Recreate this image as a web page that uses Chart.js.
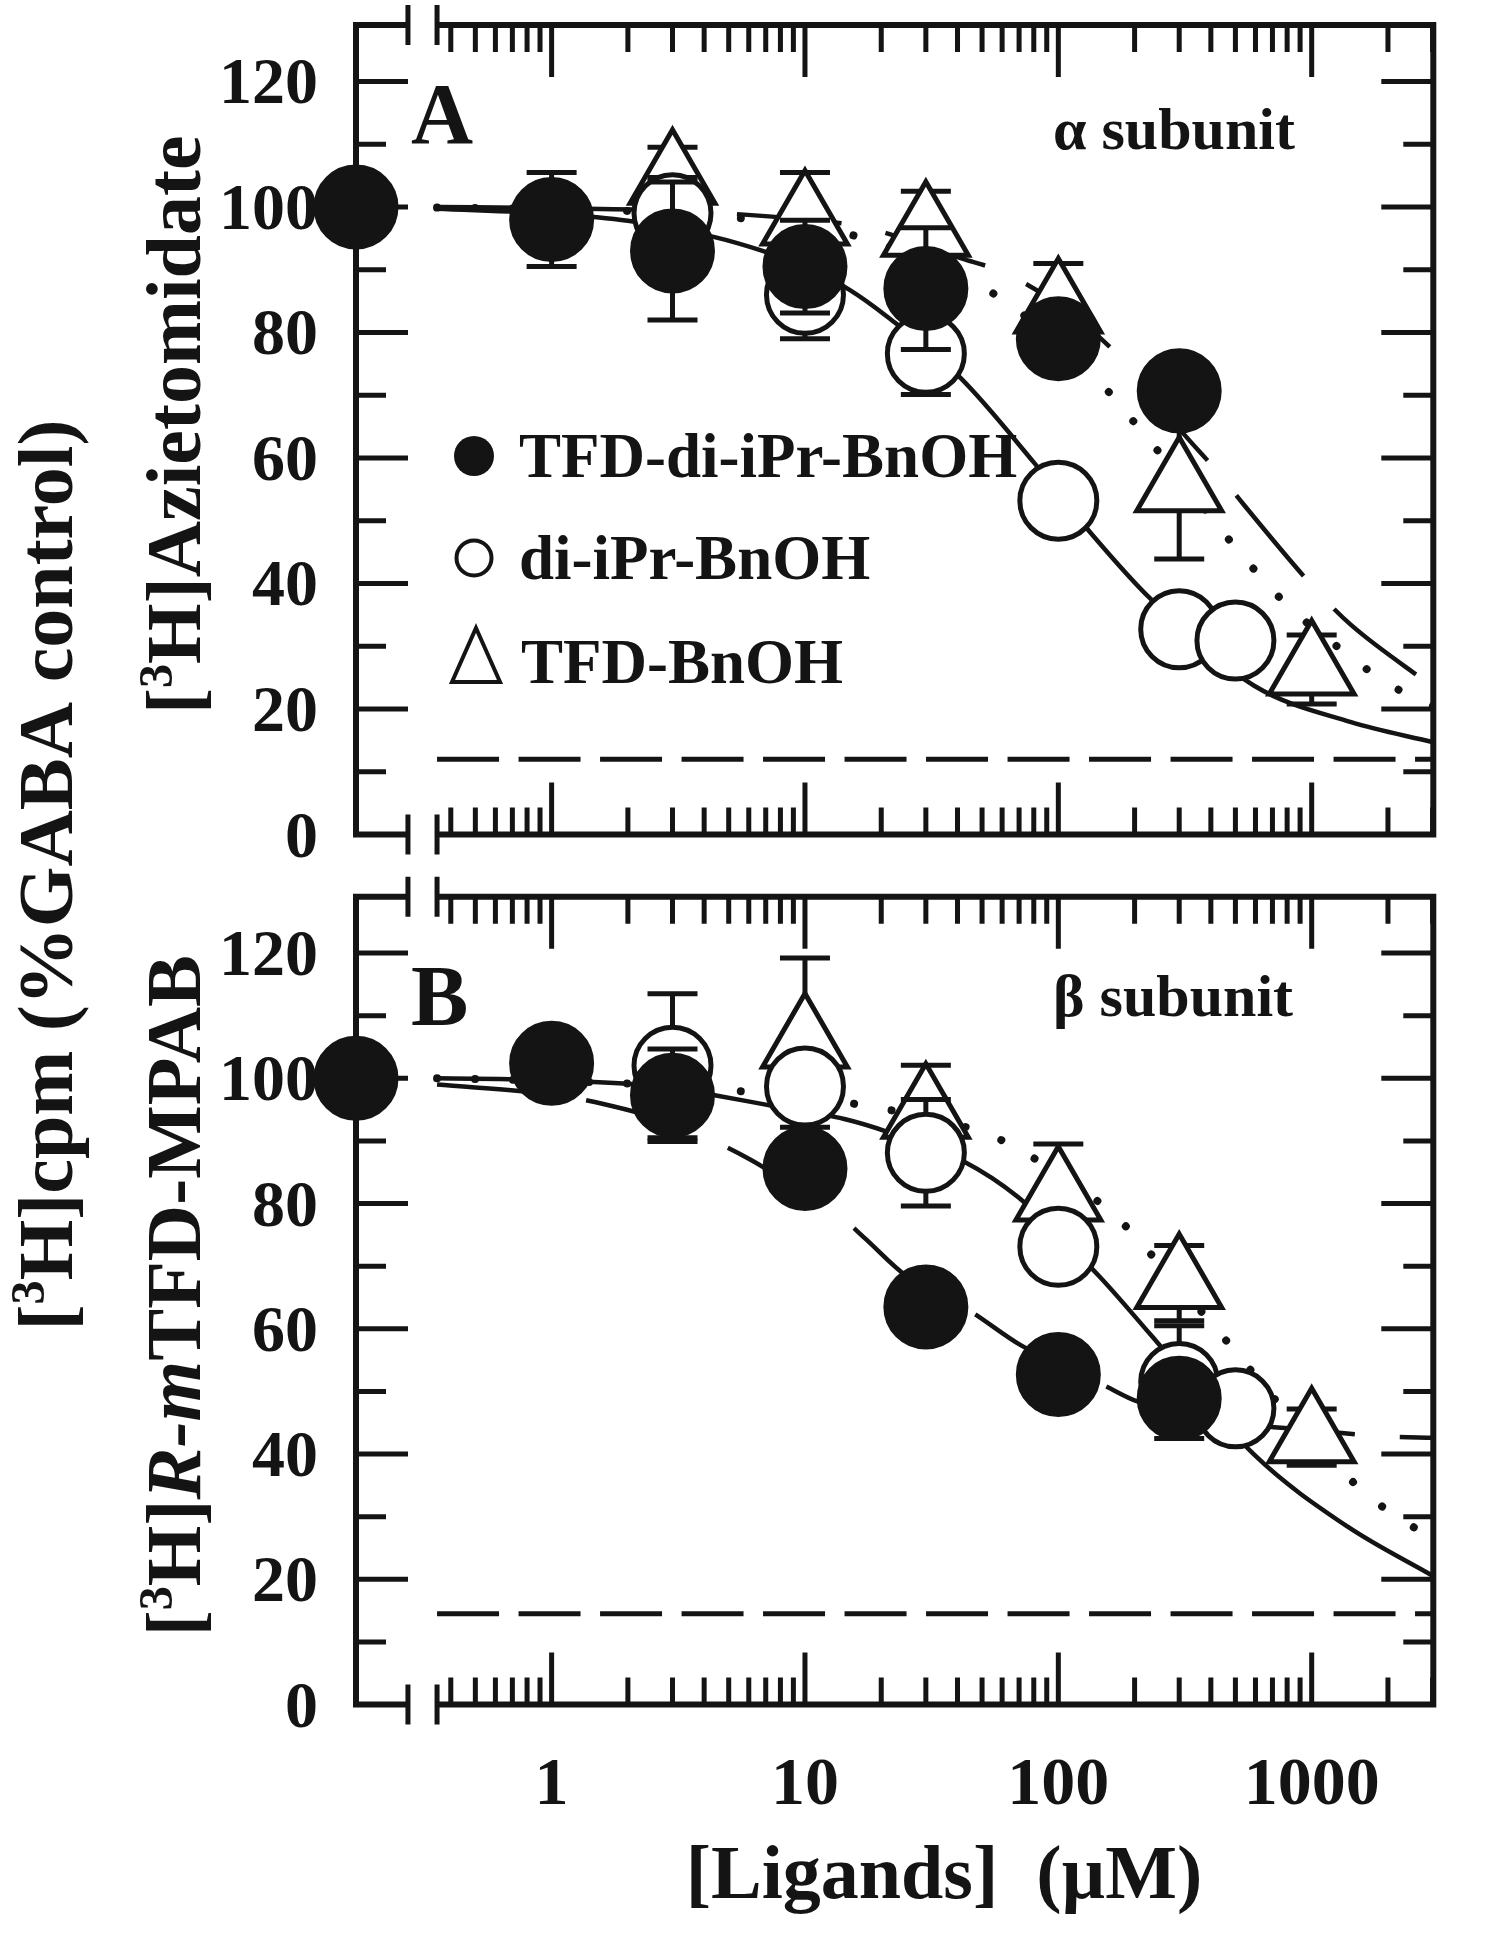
<!DOCTYPE html>
<html>
<head>
<meta charset="utf-8">
<script src="https://cdn.jsdelivr.net/npm/chart.js@4.4.0/dist/chart.umd.min.js"></script>
<style>
  html, body { margin: 0; padding: 0; background: #fff; }
  #wrap { position: relative; width: 1502px; height: 1950px; }
  #wrap canvas { position: absolute; left: 0; top: 0; }
</style>
</head>
<body>
<div id="wrap">
  <canvas id="chartA" width="1502" height="1950"></canvas>
  <canvas id="chartB" width="1502" height="1950"></canvas>
</div>
<script>
// ---- data (concentrations in µM, 0 = GABA control drawn on the y axis) ----
const concFilledA = [0, 1, 3, 10, 30, 100, 300];
const filledA     = [100, 98, 93, 90.5, 87, 79, 70.7];
const filledErrA  = [0, 7.5, 11, 7.4, 9.7, 3, 3];
const concOpenA   = [3, 10, 30, 100, 300, 500];
const openA       = [99, 86, 76.6, 53.2, 32.7, 30.9];
const openErrA    = [5.7, 7, 6.5, 3, 3, 3];
const concTriA    = [3, 10, 30, 100, 300, 1000];
const triA        = [104.5, 98, 96.2, 84, 55.5, 26.3];
const triErrA     = [5, 7.5, 6.3, 7, 11.6, 5.5];

const concFilledB = [0, 1, 3, 10, 30, 100, 300];
const filledB     = [100, 102.4, 97.3, 85.6, 63.5, 52.7, 48.9];
const filledErrB  = [0, 3, 7.4, 3, 3, 3, 3];
const concOpenB   = [3, 10, 30, 100, 300, 500];
const openB       = [102, 98.7, 88.1, 73.1, 51.5, 47.3];
const openErrB    = [11.5, 4, 8.5, 4, 9, 3];
const concTriB    = [10, 30, 100, 300, 1000];
const triB        = [105.7, 94.5, 81.3, 67.3, 42.7];
const triErrB     = [13.5, 7.6, 8.2, 6, 4.5];

// fitted curves
const curveFilledA_x = [0.353, 1, 3, 10, 17, 43, 58, 100, 171, 313, 431, 541, 1072, 1429, 3020];
const curveFilledA_y = [100, 99.8, 99.4, 98, 96.8, 91.6, 89.9, 84.5, 76.5, 63.8, 57.5, 52.5, 38.4, 33.4, 23.5];
const curveOpenA_x   = [0.353, 1, 2, 4.4, 6.8, 10, 15, 21, 41, 80, 134, 232, 593, 1430, 3020];
const curveOpenA_y   = [99.7, 98.9, 97.8, 95.2, 93, 90.5, 86.8, 82.6, 72.8, 59.3, 48.1, 37.5, 23.7, 17.9, 14.7];
const curveTriA_x    = [0.353, 1, 3, 10, 17, 54, 161, 202, 300, 494, 631, 817, 1459, 1914, 2512, 3020];
const curveTriA_y    = [99.9, 99.7, 99, 97, 95, 86.5, 70.2, 65.4, 57, 46, 41, 36.2, 28, 24.5, 21.9, 20.5];

const curveFilledB_x = [0.353, 1, 1.6, 3, 6.1, 10, 12.9, 17.3, 25, 45, 71, 151, 205, 400, 1000, 2000, 3020];
const curveFilledB_y = [99, 97.4, 95.9, 92.8, 87, 81.6, 79, 74.4, 68.5, 62.8, 57.4, 51, 48.4, 45.5, 43.8, 42.8, 42.6];
const curveOpenB_x   = [0.353, 1, 3, 4.4, 7, 14.3, 21, 42, 69.5, 145, 232, 593, 1387, 3020];
const curveOpenB_y   = [100, 99.7, 98.5, 97.3, 95.8, 93.5, 91.5, 86.8, 81, 68.4, 59, 39.9, 28.4, 20.5];
const curveTriB_x    = [0.353, 1, 3, 5.7, 17.5, 53, 71, 166, 215, 445, 800, 1541, 2024, 2706, 3020];
const curveTriB_y    = [100, 99.6, 98.8, 97.9, 95.6, 91, 88.5, 78.2, 73.4, 58.8, 46.5, 34.6, 30.8, 27.6, 26.5];

// nonspecific (background) level
const nsX = [0.353, 3020];
const nsA = [12, 12];
const nsB = [14.5, 14.5];

const seriesNames = ['TFD-di-iPr-BnOH', 'di-iPr-BnOH', 'TFD-BnOH'];

// ---- axes ----
const X_MIN = 0.169, X_MAX = 3020;
const BREAK_LO = 0.271, BREAK_HI = 0.353;
const Y_MAX = 129;
const xMajorTicks = [1, 10, 100, 1000];
const xTickLabels = ['1', '10', '100', '1000'];
const xMinorTicks = [];
[0.1, 1, 10, 100, 1000].forEach(d => {
  for (let k = 2; k <= 9; k++) {
    const v = +(k * d).toPrecision(3);
    if (v > BREAK_HI && v < X_MAX) xMinorTicks.push(v);
  }
});
const yMajorTicks = [0, 20, 40, 60, 80, 100, 120];
const yMinorTicks = [10, 30, 50, 70, 90, 110];

const INK = '#141414';
const SERIF = '"Liberation Serif", "Times New Roman", serif';

function pts(xs, ys) {
  return xs.map((x, i) => ({ x: x === 0 ? X_MIN : x, y: ys[i] }));
}

// ---- text helpers ----
function segFont(s, size) {
  const sz = s.sup ? size * 0.62 : size;
  return (s.it ? 'italic ' : '') + 'bold ' + sz + 'px ' + SERIF;
}
function richWidth(ctx, segs, size) {
  let w = 0;
  segs.forEach(s => { ctx.font = segFont(s, size); w += ctx.measureText(s.t).width; });
  return w;
}
function drawRich(ctx, segs, x, y, size) {
  segs.forEach(s => {
    ctx.font = segFont(s, size);
    ctx.fillText(s.t, x, s.sup ? y - size * 0.36 : y);
    x += ctx.measureText(s.t).width;
  });
}
function drawVertical(ctx, segs, baseX, centerY, size) {
  ctx.save();
  ctx.translate(baseX, centerY);
  ctx.rotate(-Math.PI / 2);
  ctx.textAlign = 'left';
  ctx.textBaseline = 'alphabetic';
  drawRich(ctx, segs, -richWidth(ctx, segs, size) / 2, 0, size);
  ctx.restore();
}

const outerTitle = [{ t: '[' }, { t: '3', sup: true }, { t: 'H]cpm (%GABA control)' }];
const titleA = [{ t: '[' }, { t: '3', sup: true }, { t: 'H]Azietomidate' }];
const titleB = [{ t: '[' }, { t: '3', sup: true }, { t: 'H]' }, { t: 'R-m', it: true }, { t: 'TFD-MPAB' }];

// ---- plugin: frame, broken axis, ticks, labels, error bars ----
const panelFrame = {
  id: 'panelFrame',
  beforeDatasetsDraw(chart, args, o) {
    const { ctx, chartArea: a } = chart;
    const xs = chart.scales.x, ys = chart.scales.y;
    const bLo = xs.getPixelForValue(BREAK_LO), bHi = xs.getPixelForValue(BREAK_HI);
    ctx.save();
    ctx.strokeStyle = INK;
    ctx.fillStyle = INK;

    // box with gap at the axis break
    ctx.lineWidth = 6;
    ctx.beginPath();
    ctx.moveTo(a.left, a.top - 3); ctx.lineTo(a.left, a.bottom + 3);
    ctx.moveTo(a.right, a.top - 3); ctx.lineTo(a.right, a.bottom + 3);
    [a.top, a.bottom].forEach(y => {
      ctx.moveTo(a.left, y); ctx.lineTo(bLo, y);
      ctx.moveTo(bHi, y); ctx.lineTo(a.right, y);
    });
    ctx.stroke();

    ctx.lineWidth = 5;
    ctx.beginPath();
    [a.top, a.bottom].forEach(y => {
      [bLo, bHi].forEach(x => { ctx.moveTo(x, y - 20); ctx.lineTo(x, y + 20); });
    });
    // x ticks (inward, top and bottom)
    const xt = (v, len) => {
      const x = xs.getPixelForValue(v);
      ctx.moveTo(x, a.top); ctx.lineTo(x, a.top + len);
      ctx.moveTo(x, a.bottom); ctx.lineTo(x, a.bottom - len);
    };
    xMajorTicks.forEach(v => xt(v, 52));
    xMinorTicks.forEach(v => xt(v, 27));
    // y ticks (inward, left and right)
    const yt = (v, len) => {
      const y = ys.getPixelForValue(v);
      ctx.moveTo(a.left, y); ctx.lineTo(a.left + len, y);
      ctx.moveTo(a.right, y); ctx.lineTo(a.right - len, y);
    };
    yMajorTicks.forEach(v => yt(v, 52));
    yMinorTicks.forEach(v => yt(v, 30));
    ctx.stroke();

    // y tick labels
    ctx.font = 'bold 66px ' + SERIF;
    ctx.textAlign = 'right';
    ctx.textBaseline = 'alphabetic';
    yMajorTicks.forEach(v => ctx.fillText(String(v), 318, ys.getPixelForValue(v) + 22));

    // x tick labels + axis title
    if (o.xLabels) {
      ctx.font = 'bold 68px ' + SERIF;
      ctx.textAlign = 'center';
      xMajorTicks.forEach((v, i) => ctx.fillText(xTickLabels[i], xs.getPixelForValue(v), a.bottom + 99));
      ctx.font = 'bold 76px ' + SERIF;
      ctx.fillText('[Ligands]  (\u00b5M)', 944, a.bottom + 193);
    }

    // panel letter and subunit
    ctx.textAlign = 'left';
    ctx.font = 'bold 86px ' + SERIF;
    ctx.fillText(o.letter, 411, a.top + o.letterDy);
    ctx.font = 'bold 60px ' + SERIF;
    ctx.fillText(o.subunit, 1053, a.top + o.subDy);

    // panel y title
    drawVertical(ctx, o.title, 200, (a.top + a.bottom) / 2 - 5, 78);
    if (o.outer) drawVertical(ctx, outerTitle, 72, 875, 78);

    // legend
    if (o.legend) {
      const rows = [456, 558, 662];
      const mx = 474;
      ctx.lineWidth = 4;
      ctx.beginPath(); ctx.arc(mx, rows[0], 20, 0, Math.PI * 2); ctx.fill();
      ctx.beginPath(); ctx.arc(mx, rows[1], 17.5, 0, Math.PI * 2); ctx.stroke();
      ctx.beginPath();
      ctx.moveTo(mx + 2, rows[2] - 34); ctx.lineTo(mx + 26, rows[2] + 20); ctx.lineTo(mx - 22, rows[2] + 20);
      ctx.closePath(); ctx.stroke();
      ctx.font = 'bold 63px ' + SERIF;
      seriesNames.forEach((n, i) => ctx.fillText(n, i === 2 ? 521 : 519, rows[i] + 21));
    }
    ctx.restore();
  },
  beforeDatasetDraw(chart, args) {
    const ds = chart.data.datasets[args.index];
    if (!ds.errorBars) return;
    const { ctx } = chart;
    const ys = chart.scales.y;
    ctx.save();
    ctx.strokeStyle = INK;
    ctx.lineWidth = 5;
    ctx.beginPath();
    args.meta.data.forEach((el, i) => {
      const e = ds.errorBars[i];
      if (!e) return;
      const v = ds.data[i].y;
      const t = ys.getPixelForValue(v + e), b = ys.getPixelForValue(v - e);
      ctx.moveTo(el.x, t); ctx.lineTo(el.x, b);
      ctx.moveTo(el.x - 25, t); ctx.lineTo(el.x + 25, t);
      ctx.moveTo(el.x - 25, b); ctx.lineTo(el.x + 25, b);
    });
    ctx.stroke();
    ctx.restore();
  }
};

function markers(p) {
  return [
    { label: seriesNames[0], data: pts(p.cf, p.f), errorBars: p.fe, order: 0, clip: false,
      pointStyle: 'circle', pointRadius: 40, pointBackgroundColor: INK, pointBorderColor: INK, pointBorderWidth: 5 },
    { label: seriesNames[1], data: pts(p.co, p.op), errorBars: p.oe, order: 1, clip: false,
      pointStyle: 'circle', pointRadius: 38.5, pointBackgroundColor: '#fff', pointBorderColor: INK, pointBorderWidth: 5 },
    { label: seriesNames[2], data: pts(p.ct, p.t), errorBars: p.te, order: 2, clip: false,
      pointStyle: 'triangle', pointRadius: 49, pointBackgroundColor: '#fff', pointBorderColor: INK, pointBorderWidth: 5 }
  ];
}
function curve(xs, ys, dash, width, cap, order) {
  return { data: pts(xs, ys), showLine: true, pointRadius: 0, borderColor: INK, borderWidth: width,
           borderDash: dash, borderCapStyle: cap, cubicInterpolationMode: 'monotone', order: order };
}

function makeChart(id, top, bottom, datasets, frameOpts) {
  return new Chart(document.getElementById(id), {
    type: 'scatter',
    data: { datasets: datasets },
    options: {
      responsive: false,
      devicePixelRatio: 1,
      animation: false,
      events: [],
      layout: { autoPadding: false, padding: { left: 356, right: 68.7, top: top, bottom: 1950 - bottom } },
      scales: {
        x: { type: 'logarithmic', min: X_MIN, max: X_MAX, bounds: 'data', display: false },
        y: { type: 'linear', min: 0, max: Y_MAX, bounds: 'data', display: false }
      },
      plugins: { legend: { display: false }, tooltip: { enabled: false }, panelFrame: frameOpts }
    },
    plugins: [panelFrame]
  });
}

makeChart('chartA', 25, 834.5, [
  ...markers({ cf: concFilledA, f: filledA, fe: filledErrA, co: concOpenA, op: openA, oe: openErrA,
               ct: concTriA, t: triA, te: triErrA }),
  curve(curveFilledA_x, curveFilledA_y, [105, 45], 4.5, 'butt', 3),
  curve(curveOpenA_x, curveOpenA_y, [], 4.5, 'butt', 4),
  curve(curveTriA_x, curveTriA_y, [0.01, 38], 8, 'round', 5),
  curve(nsX, nsA, [62, 19.5], 5, 'butt', 6)
], { letter: 'A', letterDy: 118, subunit: '\u03b1 subunit', subDy: 124, legend: true, xLabels: false,
     title: titleA, outer: true });

makeChart('chartB', 896.7, 1704.6, [
  ...markers({ cf: concFilledB, f: filledB, fe: filledErrB, co: concOpenB, op: openB, oe: openErrB,
               ct: concTriB, t: triB, te: triErrB }),
  curve(curveFilledB_x, curveFilledB_y, [105, 45], 4.5, 'butt', 3),
  curve(curveOpenB_x, curveOpenB_y, [], 4.5, 'butt', 4),
  curve(curveTriB_x, curveTriB_y, [0.01, 38], 8, 'round', 5),
  curve(nsX, nsB, [62, 19.5], 5, 'butt', 6)
], { letter: 'B', letterDy: 128, subunit: '\u03b2 subunit', subDy: 119, legend: false, xLabels: true,
     title: titleB, outer: false });
</script>
</body>
</html>
